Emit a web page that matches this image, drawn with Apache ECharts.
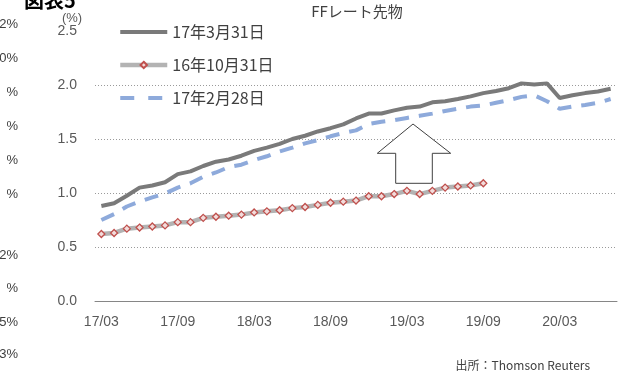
<!DOCTYPE html>
<html>
<head>
<meta charset="utf-8">
<script src="https://cdn.jsdelivr.net/npm/echarts@6/dist/echarts.min.js"></script>
<style>
html,body{margin:0;padding:0;background:#fff;}
#chart{width:622px;height:372px;}
</style>
</head>
<body>
<div id="chart"></div>
<script>
// Categories: monthly contract months 17/03 .. 20/07
const categories = [
  '17/03','17/04','17/05','17/06','17/07','17/08','17/09','17/10','17/11','17/12',
  '18/01','18/02','18/03','18/04','18/05','18/06','18/07','18/08','18/09','18/10',
  '18/11','18/12','19/01','19/02','19/03','19/04','19/05','19/06','19/07','19/08',
  '19/09','19/10','19/11','19/12','20/01','20/02','20/03','20/04','20/05','20/06','20/07'
];
const seriesNames = ['17年3月31日', '16年10月31日', '17年2月28日'];
// 17年3月31日
const mar31 = [
  0.88,0.905,0.975,1.05,1.07,1.10,1.175,1.20,1.25,1.29,
  1.31,1.345,1.39,1.42,1.455,1.50,1.53,1.57,1.60,1.635,
  1.69,1.735,1.736,1.765,1.79,1.80,1.84,1.85,1.87,1.895,
  1.925,1.945,1.97,2.015,2.005,2.015,1.88,1.905,1.925,1.94,1.965
];
// 16年10月31日
const oct31 = [
  0.62,0.63,0.67,0.68,0.69,0.70,0.73,0.73,0.77,0.78,
  0.79,0.80,0.82,0.83,0.84,0.86,0.87,0.89,0.91,0.92,
  0.93,0.97,0.97,0.99,1.02,0.99,1.02,1.05,1.06,1.07,1.09
];
// 17年2月28日
const feb28 = [
  0.75,0.805,0.875,0.92,0.96,0.995,1.05,1.09,1.15,1.19,
  1.24,1.262,1.305,1.34,1.385,1.42,1.46,1.49,1.525,1.555,
  1.58,1.64,1.66,1.675,1.695,1.715,1.735,1.76,1.78,1.80,
  1.81,1.835,1.86,1.89,1.905,1.85,1.78,1.80,1.815,1.835,1.87
];
const yTicks = [0, 0.5, 1.0, 1.5, 2.0, 2.5];
const leftEdgeTexts = ['2%','0%','%','%','%','%','2%','%','5%','3%'];
const leftEdgeY = [24,58,92,126,160,194,255,288,322,354];

const chart = echarts.init(document.getElementById('chart'), null, {renderer:'canvas'});
const cjk = '"Noto Sans CJK JP", "Noto Sans", sans-serif';
const latin = '"Liberation Sans", "DejaVu Sans", sans-serif';

const graphics = [
  {type:'text', left:24, top:-10, style:{text:'図表5', font:'bold 20px ' + cjk, fill:'#000'}},
  {type:'text', x:357, y:11, style:{text:'FFレート先物', font:'15px ' + cjk, fill:'#404040', align:'center', verticalAlign:'middle'}},
  {type:'text', x:72, y:18, style:{text:'(%)', font:'13px ' + latin, fill:'#595959', align:'center', verticalAlign:'middle'}},
  {type:'text', x:590, y:365, style:{text:'出所：Thomson Reuters', font:'12px ' + cjk, fill:'#404040', align:'right', verticalAlign:'middle'}},
  {type:'polygon', shape:{points:[[413,124],[450.7,153.3],[432.3,153.3],[432.3,183.3],[395.7,183.3],[395.7,153.3],[377.3,153.3]]},
   style:{fill:'#ffffff', stroke:'#404040', lineWidth:1}, z:100}
];
leftEdgeTexts.forEach((t,i)=>{
  graphics.push({type:'text', x:18, y:leftEdgeY[i], style:{text:t, font:'13px ' + latin, fill:'#404040', align:'right', verticalAlign:'middle'}});
});

const option = {
  animation:false,
  backgroundColor:'#fff',
  grid:{left:95, right:5, top:31, bottom:71},
  legend:{
    orient:'vertical', left:118, top:24, padding:0, itemWidth:47, itemHeight:8, itemGap:17,
    data:[
      {name:seriesNames[0], itemStyle:{opacity:0}, lineStyle:{width:4, color:'#7a7a7a'}},
      {name:seriesNames[1], lineStyle:{width:4.5, color:'#b3b3b3'}},
      {name:seriesNames[2], itemStyle:{opacity:0}, lineStyle:{width:4, color:'#8eaadb', type:[14,14]}}
    ],
    textStyle:{fontFamily:cjk, fontSize:16, color:'#404040', padding:[0,0,0,0]},
    selectedMode:false
  },
  xAxis:{
    type:'category', data:categories, boundaryGap:true,
    axisLine:{lineStyle:{color:'#868686', width:1}},
    axisTick:{show:false},
    axisLabel:{interval:5, margin:14, fontSize:14, color:'#595959', fontFamily:latin}
  },
  yAxis:{
    type:'value', min:yTicks[0], max:yTicks[yTicks.length-1], interval:0.5,
    axisLine:{show:false}, axisTick:{show:false},
    axisLabel:{margin:18, fontSize:14, color:'#595959', fontFamily:latin, formatter:v=>v.toFixed(1)},
    splitLine:{show:true, lineStyle:{type:[1,2], width:1, color:['rgba(0,0,0,0)','#9a9a9a','#9a9a9a','#9a9a9a','#9a9a9a','rgba(0,0,0,0)']}}
  },
  series:[
    {name:seriesNames[0], type:'line', data:mar31, symbol:'none',
     lineStyle:{color:'#7a7a7a', width:4}, itemStyle:{color:'#7a7a7a'}, z:3},
    {name:seriesNames[1], type:'line', data:oct31, symbol:'diamond', symbolSize:7, showSymbol:true,
     lineStyle:{color:'#b3b3b3', width:4.5},
     itemStyle:{color:'#f2dcdb', borderColor:'#c0504d', borderWidth:1.3}, z:4},
    {name:seriesNames[2], type:'line', data:feb28, symbol:'none',
     lineStyle:{color:'#8eaadb', width:4, type:[14,10]}, itemStyle:{color:'#8eaadb'}, z:2}
  ],
  graphic:graphics
};
chart.setOption(option);
</script>
</body>
</html>
